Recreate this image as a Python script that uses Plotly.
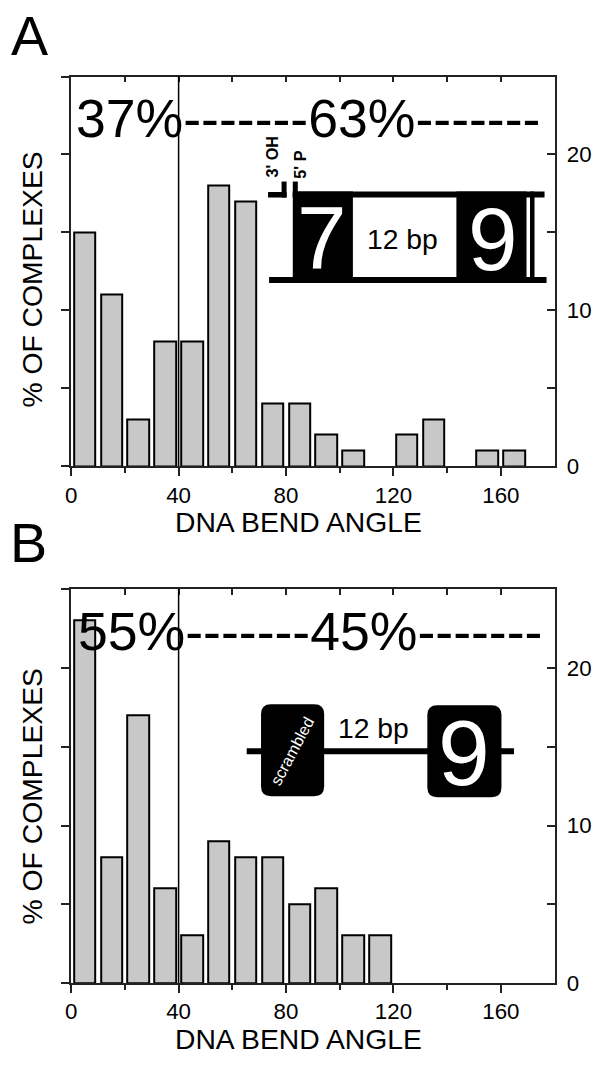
import plotly.graph_objects as go

FONT = "Liberation Sans, Arial, sans-serif"
# the page body keeps its 8px margin, so the figure is drawn 8px in from each edge
PAGE_W, PAGE_H, PAD = 602, 1066, 8
W, H = PAGE_W - 2 * PAD, PAGE_H - 2 * PAD
# small correction measured from earlier renders (page shot comes out ~1.2% smaller)
SC, OFF_X, OFF_Y = 0.988, 5.5, -1.5

# histogram data (bin centres in degrees, % of complexes)
angle_bins = [5, 15, 25, 35, 45, 55, 65, 75, 85, 95, 105, 115, 125, 135, 145, 155, 165]
pct_a = [15, 11, 3, 8, 8, 18, 17, 4, 4, 2, 1, 0, 2, 3, 0, 1, 1]
pct_b = [23, 8, 17, 6, 3, 9, 8, 8, 5, 6, 3, 3, 0, 0, 0, 0, 0]
split_angle = 40
x_ticks = [0, 40, 80, 120, 160]
y_ticks = [0, 10, 20]
split_a = ("37%", "63%")
split_b = ("55%", "45%")

BAR_FILL = "#c8c8c8"
AX = "#222222"


def px(x):
    return ((x - OFF_X) / SC - PAD) / W


def py(y):
    return 1 - ((y - OFF_Y) / SC - PAD) / H


def fs(size):
    return round(size / SC, 1)


def nonzero(vals):
    pts = [(a, v) for a, v in zip(angle_bins, vals) if v > 0]
    return [p[0] for p in pts], [p[1] for p in pts]


fig = go.Figure()
for vals, xa, ya in [(pct_a, "x", "y"), (pct_b, "x2", "y2")]:
    xs, ys = nonzero(vals)
    fig.add_trace(go.Bar(x=xs, y=ys, width=8, xaxis=xa, yaxis=ya,
                         marker=dict(color=BAR_FILL, line=dict(color="black", width=2)),
                         showlegend=False, hoverinfo="skip"))

x_dom = [px(70.5), px(553)]
doms = {"A": [py(464.7), py(75)], "B": [py(981.7), py(588)]}

common = dict(showgrid=False, zeroline=False, showline=True, linecolor=AX, linewidth=1.5,
              tickcolor=AX, tickwidth=1.5,
              tickfont=dict(family=FONT, size=fs(22), color="black"))


def bottom_x(anchor):
    return dict(common, domain=x_dom, anchor=anchor, range=[0, 180], tickvals=x_ticks,
                ticks="outside", ticklen=8,
                minor=dict(tickvals=[20, 60, 100, 140], ticks="outside", ticklen=5,
                           tickwidth=1.5, tickcolor=AX))


def top_x(over, anchor):
    return dict(common, overlaying=over, anchor=anchor, side="top", range=[0, 180],
                tickvals=[20, 40, 60, 80, 100, 120, 140, 160], ticks="inside", ticklen=6,
                showticklabels=False)


def left_y(dom, anchor):
    return dict(common, domain=dom, anchor=anchor, range=[0, 25], dtick=5, tick0=0,
                ticks="outside", ticklen=8, showticklabels=False)


def right_y(over, anchor):
    return dict(common, overlaying=over, anchor=anchor, side="right", range=[0, 25],
                tickvals=y_ticks, ticks="inside", ticklen=8, ticklabelstandoff=6,
                minor=dict(tickvals=[5, 15], ticks="inside", ticklen=8, tickwidth=1.5,
                           tickcolor=AX))


fig.update_layout(
    xaxis=bottom_x("y"), xaxis3=top_x("x", "y"),
    yaxis=left_y(doms["A"], "x"), yaxis3=right_y("y", "x"),
    xaxis2=bottom_x("y2"), xaxis4=top_x("x2", "y2"),
    yaxis2=left_y(doms["B"], "x2"), yaxis4=right_y("y2", "x2"),
)
# empty traces so the overlay axes are drawn
fig.add_trace(go.Scatter(x=[], y=[], xaxis="x3", yaxis="y3", showlegend=False))
fig.add_trace(go.Scatter(x=[], y=[], xaxis="x4", yaxis="y4", showlegend=False))

shapes = []
for xr, yr in [("x", "y domain"), ("x2", "y2 domain")]:
    shapes.append(dict(type="line", xref=xr, yref=yr, x0=split_angle, x1=split_angle,
                       y0=0, y1=1, line=dict(color="black", width=1.5)))


def rect(x0, y0, x1, y1, color="black"):
    shapes.append(dict(type="rect", xref="paper", yref="paper", x0=px(x0), x1=px(x1),
                       y0=py(y1), y1=py(y0), fillcolor=color, line=dict(width=0)))


def rounded(x0, y0, x1, y1, r):
    pts = [("M", x0 + r, y0), ("L", x1 - r, y0), ("Q", x1, y0, x1, y0 + r),
           ("L", x1, y1 - r), ("Q", x1, y1, x1 - r, y1), ("L", x0 + r, y1),
           ("Q", x0, y1, x0, y1 - r), ("L", x0, y0 + r), ("Q", x0, y0, x0 + r, y0)]
    path = ""
    for p in pts:
        coords = p[1:]
        seg = " ".join(f"{px(coords[i]):.5f},{py(coords[i + 1]):.5f}" for i in range(0, len(coords), 2))
        path += f"{p[0]} {seg} "
    shapes.append(dict(type="path", xref="paper", yref="paper", path=path + "Z",
                       fillcolor="black", line=dict(width=0)))


# inset A: 7 / 12 bp / 9 duplex
rect(291.7, 190, 543, 196)
rect(268, 275.5, 545, 281.5)
rect(291.7, 190, 351.7, 281)
rect(455, 190, 525, 281)
rect(528.5, 190, 533, 281)
rect(291.7, 180, 296.7, 196)
rect(280.5, 180, 285.5, 196)
rect(267, 190.5, 285.5, 196)

# inset B: scrambled / 12 bp / 9
rect(245.7, 747, 512.5, 753)
rounded(260, 703, 323, 795, 10)
rounded(426, 704, 500, 796, 10)

fig.update_layout(shapes=shapes)

ann = []


def text(t, x, y, size, color="black", angle=0, anchor="center", bold=False):
    if bold:
        t = f"<b>{t}</b>"
    ann.append(dict(text=t, x=px(x), y=py(y), xref="paper", yref="paper", showarrow=False,
                    xanchor=anchor, yanchor="middle", textangle=angle,
                    font=dict(family=FONT, size=fs(size), color=color)))


text("A", 29.5, 34, 55)
text("B", 28, 542, 55)
text(f"{split_a[0]}-------{split_a[1]}-------", 73, 116, 53, anchor="left")
text(f"{split_b[0]}-------{split_b[1]}-------", 75, 630, 53, anchor="left")
for yc in (278, 795):
    text("% OF COMPLEXES", 31.5, yc, 28, angle=-90)
for yc in (521, 1038):
    text("DNA BEND ANGLE", 297, yc, 28)

text("3' OH", 270, 155, 16, angle=-90, bold=True)
text("5' P", 298.5, 163.5, 16, angle=-90, bold=True)
text("7", 321, 236.7, 88, color="white")
text("12 bp", 401.7, 237.5, 28)
text("9", 492, 237, 88, color="white")

text("scrambled", 291, 750, 16, color="white", angle=-62)
text("12 bp", 372.5, 727, 28)
text("9", 463, 752, 92, color="white")

fig.update_layout(annotations=ann, width=W, height=H, autosize=False,
                  margin=dict(l=0, r=0, t=0, b=0), paper_bgcolor="white",
                  plot_bgcolor="white", bargap=0, showlegend=False)

fig.write_html("out.html")
